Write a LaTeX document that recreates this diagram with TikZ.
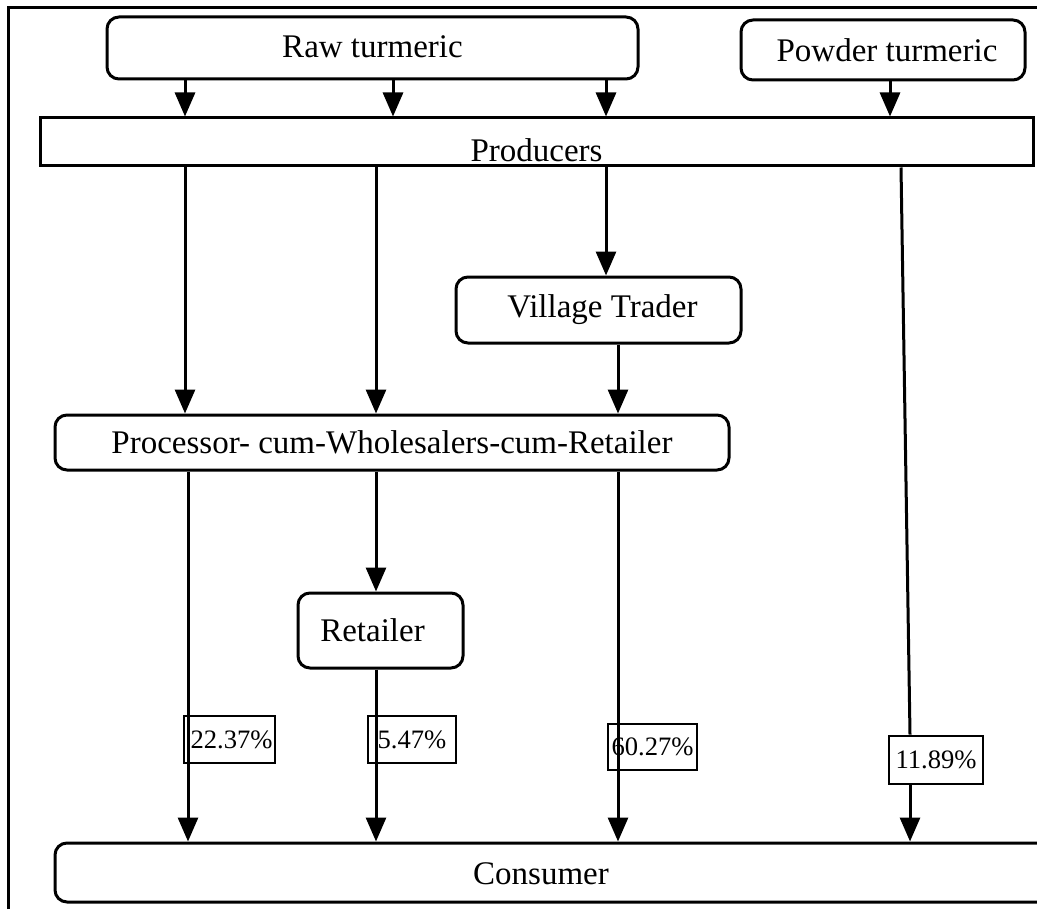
\documentclass[tikz,border=0pt]{standalone}
\usepackage{fontspec}
\setmainfont{Liberation Serif}
\usetikzlibrary{arrows.meta}
\begin{document}
\begin{tikzpicture}[x=0.5pt,y=-0.5pt,
  box/.style={draw,line width=1.5pt,rounded corners=6pt,inner sep=0pt,font=\fontsize{16.5}{19}\selectfont},
  sqbox/.style={draw,line width=1.5pt,inner sep=0pt,font=\fontsize{16.5}{19}\selectfont},
  pct/.style={draw,line width=1.4pt,inner sep=0pt,font=\fontsize{13.3}{16}\selectfont},
  conn/.style={line width=1.5pt},
  arr/.style={conn,-{Triangle[width=10pt,length=12pt]}}]
\useasboundingbox (0,0) rectangle (1037,909);
% frame
\draw[line width=1.5pt] (8,909) -- (8,8) -- (1037,8);
% nodes
\node[box,minimum width=265.5pt,minimum height=31pt,text height=12pt,text depth=2pt] (raw) at (372.5,48) {Raw turmeric};
\node[box,minimum width=142pt,minimum height=30pt] (powder) at (883,50) {\hspace*{4pt}Powder turmeric};
\node[sqbox,minimum width=496.5pt,minimum height=24pt,text height=20pt,text depth=0pt] (prod) at (536.5,142) {Producers};
\node[box,minimum width=142.5pt,minimum height=33pt] (village) at (598.5,310) {\hspace*{4pt}Village Trader};
\node[box,minimum width=337pt,minimum height=27.5pt] (proc) at (392,442.5) {Processor- cum-Wholesalers-cum-Retailer};
\node[box,minimum width=82.5pt,minimum height=37.5pt] (ret) at (380.5,630.5) {\hspace*{-8pt}Retailer};
\node[box,minimum width=502.5pt,minimum height=29.5pt,text height=14pt,text depth=2pt] (cons) at (557.5,872.5) {\hspace*{-16.5pt}Consumer};
\node[pct,minimum width=45.5pt,minimum height=23.5pt] (p1) at (229.5,739.5) {\hspace*{2pt}22.37\%};
\node[pct,minimum width=44pt,minimum height=23.5pt] (p2) at (412,739.5) {5.47\%};
\node[pct,minimum width=44.5pt,minimum height=23pt] (p3) at (652.5,747) {60.27\%};
\node[pct,minimum width=47pt,minimum height=24pt] (p4) at (936,760) {11.89\%};
% x positions
\coordinate (xa) at (185,0);
\coordinate (xb) at (393,0);
\coordinate (xc) at (606,0);
\coordinate (xd) at (890,0);
\coordinate (xe) at (376,0);
\coordinate (xf) at (618,0);
\coordinate (xg) at (188,0);
\coordinate (xs) at (901,0);
\coordinate (xt) at (910,0);
% connectors
\draw[arr] (raw.south -| xa) -- (prod.north -| xa);
\draw[arr] (raw.south -| xb) -- (prod.north -| xb);
\draw[arr] (raw.south -| xc) -- (prod.north -| xc);
\draw[arr] (powder.south -| xd) -- (prod.north -| xd);
\draw[arr] (prod.south -| xa) -- (proc.north -| xa);
\draw[arr] (prod.south -| xe) -- (proc.north -| xe);
\draw[arr] (prod.south -| xc) -- (village.north -| xc);
\draw[arr] (village.south -| xf) -- (proc.north -| xf);
\draw[conn] (prod.south -| xs) -- (p4.north -| xt);
\draw[arr] (p4.south -| xt) -- (cons.north -| xt);
\draw[arr] (proc.south -| xg) -- (cons.north -| xg);
\draw[arr] (proc.south -| xe) -- (ret.north -| xe);
\draw[arr] (proc.south -| xf) -- (cons.north -| xf);
\draw[arr] (ret.south -| xe) -- (cons.north -| xe);
\end{tikzpicture}
\end{document}
